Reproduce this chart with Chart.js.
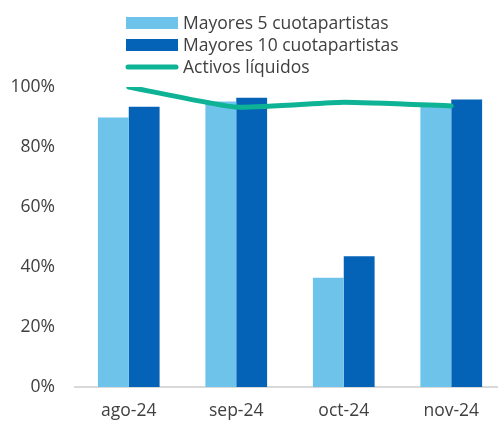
<!DOCTYPE html>
<html>
<head>
<meta charset="utf-8">
<script src="https://cdn.jsdelivr.net/npm/chart.js@4.4.1/dist/chart.umd.min.js"></script>
<style>
    html, body { margin: 0; padding: 0; background: #fff; overflow: hidden; }
    #wrap { width: 508px; height: 424px; }
</style>
</head>
<body>
<div id="wrap"><canvas id="chart" width="508" height="424"></canvas></div>
<script>
// Data
const months = ['ago-24', 'sep-24', 'oct-24', 'nov-24'];
const top5 = [89.8, 95.2, 36.4, 94.0];
const top10 = [93.4, 96.4, 43.6, 95.8];
const liquid = [100.0, 93.3, 94.9, 93.7];
const yTicks = [0, 20, 40, 60, 80, 100];

const COLORS = {
    light: '#6EC3EA',
    dark: '#0563B7',
    green: '#0DB394',
    text: '#404040',
    axis: '#D9D9D9'
};
const FONT = "'Open Sans', sans-serif";
const FONT_SIZE = 17.5;

// stacked legend drawn above the plot, one entry per row
const stackedLegend = {
    id: 'stackedLegend',
    afterDraw(chart) {
        const ctx = chart.ctx;
        const x0 = 126, boxW = 52, rowY = [23, 45, 67];
        ctx.save();
        ctx.font = `${FONT_SIZE}px ${FONT}`;
        ctx.textBaseline = 'middle';
        chart.data.datasets.forEach((ds, i) => {
            const y = rowY[i];
            if (ds.type === 'line') {
                ctx.strokeStyle = ds.borderColor;
                ctx.lineWidth = 5;
                ctx.lineCap = 'round';
                ctx.beginPath();
                ctx.moveTo(x0 + 2, y);
                ctx.lineTo(x0 + boxW - 2, y);
                ctx.stroke();
            } else {
                ctx.fillStyle = ds.backgroundColor;
                ctx.fillRect(x0, y - 6, boxW, 12);
            }
            ctx.fillStyle = COLORS.text;
            ctx.fillText(ds.label, x0 + boxW + 5, y + 1);
        });
        ctx.restore();
    }
};

new Chart(document.getElementById('chart'), {
    data: {
        labels: months,
        datasets: [
            {
                type: 'bar',
                label: 'Mayores 5 cuotapartistas',
                data: top5,
                backgroundColor: COLORS.light,
                categoryPercentage: 0.574,
                barPercentage: 1.0,
                order: 1
            },
            {
                type: 'bar',
                label: 'Mayores 10 cuotapartistas',
                data: top10,
                backgroundColor: COLORS.dark,
                categoryPercentage: 0.574,
                barPercentage: 1.0,
                order: 1
            },
            {
                type: 'line',
                label: 'Activos líquidos',
                data: liquid,
                borderColor: COLORS.green,
                borderWidth: 5,
                pointRadius: 0,
                tension: 0.15,
                borderCapStyle: 'round',
                order: 0
            }
        ]
    },
    options: {
        responsive: false,
        animation: false,
        layout: { padding: { top: 87, left: 0, right: 3, bottom: 0 } },
        plugins: {
            legend: { display: false },
            tooltip: { enabled: false }
        },
        scales: {
            x: {
                grid: { display: false, drawTicks: false },
                border: { color: COLORS.axis, width: 2 },
                ticks: { color: COLORS.text, font: { family: FONT, size: FONT_SIZE }, padding: 14 },
                afterFit: (scale) => { scale.height = 37; }
            },
            y: {
                min: 0,
                max: 100,
                grid: { display: false, drawTicks: false },
                border: { display: false },
                afterBuildTicks: (scale) => { scale.ticks = yTicks.map(v => ({ value: v })); },
                ticks: {
                    color: COLORS.text,
                    font: { family: FONT, size: FONT_SIZE },
                    padding: 20,
                    callback: (v) => v + '%'
                },
                afterFit: (scale) => { scale.width = 75; }
            }
        }
    },
    plugins: [stackedLegend]
});
</script>
</body>
</html>
